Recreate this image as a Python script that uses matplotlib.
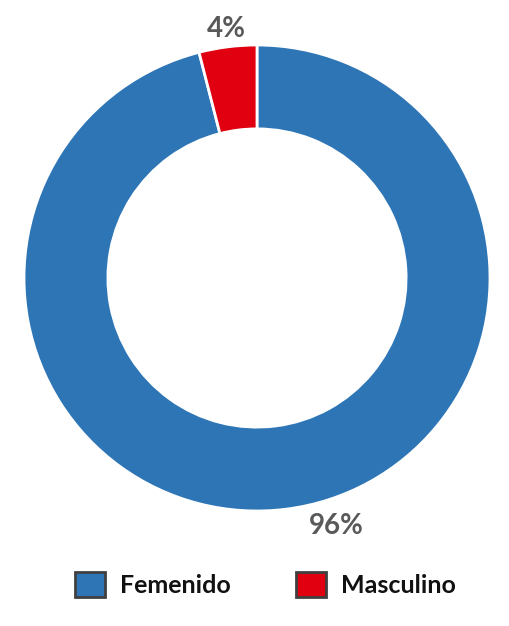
import matplotlib
matplotlib.use("Agg")
import matplotlib.pyplot as plt
from matplotlib.patches import Patch
import numpy as np

categories = ["Femenido", "Masculino"]
values = [96, 4]
labels = ["96%", "4%"]
colors = ["#2E75B6", "#E00010"]

plt.rcParams['font.family'] = ['Lato', 'DejaVu Sans']

fig = plt.figure(figsize=(5.10, 6.26), dpi=100)
ax = fig.add_axes([24/510, 115/626, 466/510, 466/626])
wedges, _ = ax.pie(values, colors=colors, startangle=90, counterclock=False,
                   radius=1.0, wedgeprops=dict(width=0.36, edgecolor="white", linewidth=2))
ax.set_xlim(-1, 1)
ax.set_ylim(-1, 1)
ax.set_aspect("equal")
ax.axis("off")

# label positions (angle deg, radius)
pos = [(-72.2, 1.12), (97.1, 1.075)]
for lab, (ang, r) in zip(labels, pos):
    a = np.deg2rad(ang)
    ax.text(r*np.cos(a), r*np.sin(a), lab, ha="center", va="center",
            fontsize=20, fontweight="bold", color="#595959", clip_on=False)

handles = [Patch(facecolor=c, edgecolor="#404040", linewidth=2) for c in colors]
fig.legend(handles, categories, loc="center", bbox_to_anchor=(0.52, 0.066),
           ncol=2, frameon=False, handlelength=1.2, handleheight=1.2,
           columnspacing=2.6, handletextpad=0.6,
           prop=dict(size=18, weight="bold"), labelcolor="#111111")

fig.savefig("out.png", dpi=100, facecolor="white")
